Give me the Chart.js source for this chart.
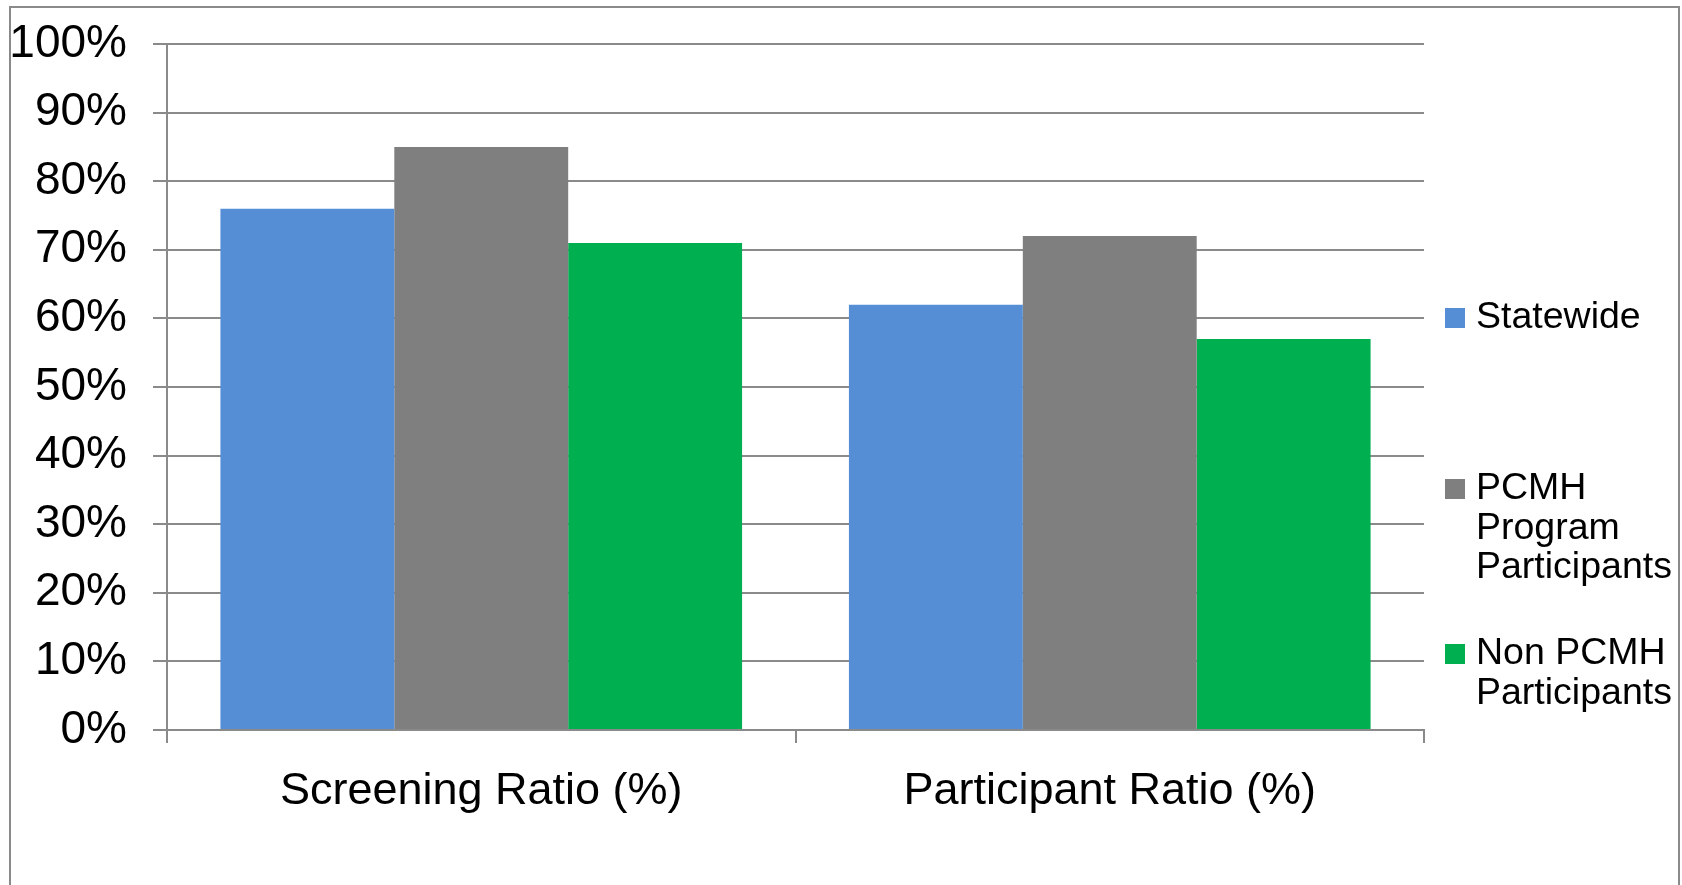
<!DOCTYPE html>
<html>
<head>
<meta charset="utf-8">
<script src="https://cdn.jsdelivr.net/npm/chart.js@4/dist/chart.umd.min.js"></script>
<style>
  html, body { margin: 0; padding: 0; background: #ffffff; }
  #wrap { position: relative; width: 1682px; height: 885px; }
  canvas { display: block; }
</style>
</head>
<body>
<div id="wrap"><canvas id="chart" width="1682" height="885"></canvas></div>
<script>
// Categories, series and tick labels
const categories = ['Screening Ratio (%)', 'Participant Ratio (%)'];
const seriesNames = ['Statewide', 'PCMH Program Participants', 'Non PCMH Participants'];
const statewide = [76, 62];
const pcmhParticipants = [85, 72];
const nonPcmhParticipants = [71, 57];
const yTicks = [0, 10, 20, 30, 40, 50, 60, 70, 80, 90, 100];

const seriesColors = ['#558ED5', '#7F7F7F', '#00B050'];
const FONT = '"Liberation Sans", Arial, sans-serif';
const GRID = '#8a8a8a';

// Outer frame around the whole chart
const framePlugin = {
  id: 'frame',
  beforeDraw(chart) {
    const ctx = chart.ctx;
    ctx.save();
    ctx.strokeStyle = '#8a8a8a';
    ctx.lineWidth = 2;
    ctx.beginPath();
    ctx.moveTo(10, 890);
    ctx.lineTo(10, 7);
    ctx.lineTo(1679, 7);
    ctx.lineTo(1679, 890);
    ctx.stroke();
    ctx.restore();
  }
};

// Right-hand legend with word-wrapped labels
const wrapLegendPlugin = {
  id: 'wrapLegend',
  afterDraw(chart, args, opts) {
    const ctx = chart.ctx;
    ctx.save();
    ctx.font = opts.fontSize + 'px ' + FONT;
    ctx.textBaseline = 'middle';
    ctx.textAlign = 'left';
    chart.data.datasets.forEach((ds, i) => {
      const words = ds.label.split(' ');
      const lines = [];
      let cur = '';
      words.forEach(w => {
        const test = cur ? cur + ' ' + w : w;
        if (cur && ctx.measureText(test).width > opts.maxWidth) {
          lines.push(cur);
          cur = w;
        } else {
          cur = test;
        }
      });
      if (cur) lines.push(cur);
      const y0 = opts.rowY[i];
      ctx.fillStyle = ds.backgroundColor;
      ctx.fillRect(opts.boxX, y0 - opts.boxSize / 2, opts.boxSize, opts.boxSize);
      ctx.fillStyle = '#000000';
      lines.forEach((ln, k) => {
        ctx.fillText(ln, opts.textX, y0 + k * opts.lineHeight);
      });
    });
    ctx.restore();
  }
};

const datasetValues = [statewide, pcmhParticipants, nonPcmhParticipants];

new Chart(document.getElementById('chart'), {
  type: 'bar',
  data: {
    labels: categories,
    datasets: seriesNames.map((name, i) => ({
      label: name,
      data: datasetValues[i],
      backgroundColor: seriesColors[i],
      borderWidth: 0,
      categoryPercentage: 0.83,
      barPercentage: 1.0
    }))
  },
  options: {
    responsive: false,
    animation: false,
    devicePixelRatio: 1,
    layout: { padding: { top: 44, right: 258, bottom: 0, left: 0 } },
    plugins: {
      legend: { display: false },
      tooltip: { enabled: false },
      wrapLegend: {
        fontSize: 37.5,
        maxWidth: 205,
        boxX: 1445,
        boxSize: 20,
        textX: 1476,
        rowY: [318, 489, 654],
        lineHeight: 39.5
      }
    },
    scales: {
      x: {
        grid: {
          display: true,
          drawOnChartArea: false,
          drawTicks: true,
          tickLength: 13,
          color: GRID,
          lineWidth: 2,
          offset: true
        },
        border: { display: true, color: GRID, width: 2 },
        ticks: {
          color: '#000000',
          font: { family: FONT, size: 45 },
          padding: 22,
          maxRotation: 0
        },
        afterFit(scale) { scale.height = 155; }
      },
      y: {
        min: 0,
        max: 100,
        afterBuildTicks(scale) {
          scale.ticks = yTicks.map(v => ({ value: v }));
        },
        ticks: {
          color: '#000000',
          font: { family: FONT, size: 46 },
          padding: 26,
          callback: v => v + '%'
        },
        grid: {
          color: GRID,
          lineWidth: 2,
          drawTicks: true,
          tickLength: 14
        },
        border: { display: true, color: GRID, width: 2 },
        afterFit(scale) {
          scale.width = 167;
          scale.paddingTop = 0;
          scale.paddingBottom = 0;
        }
      }
    }
  },
  plugins: [framePlugin, wrapLegendPlugin]
});
</script>
</body>
</html>
